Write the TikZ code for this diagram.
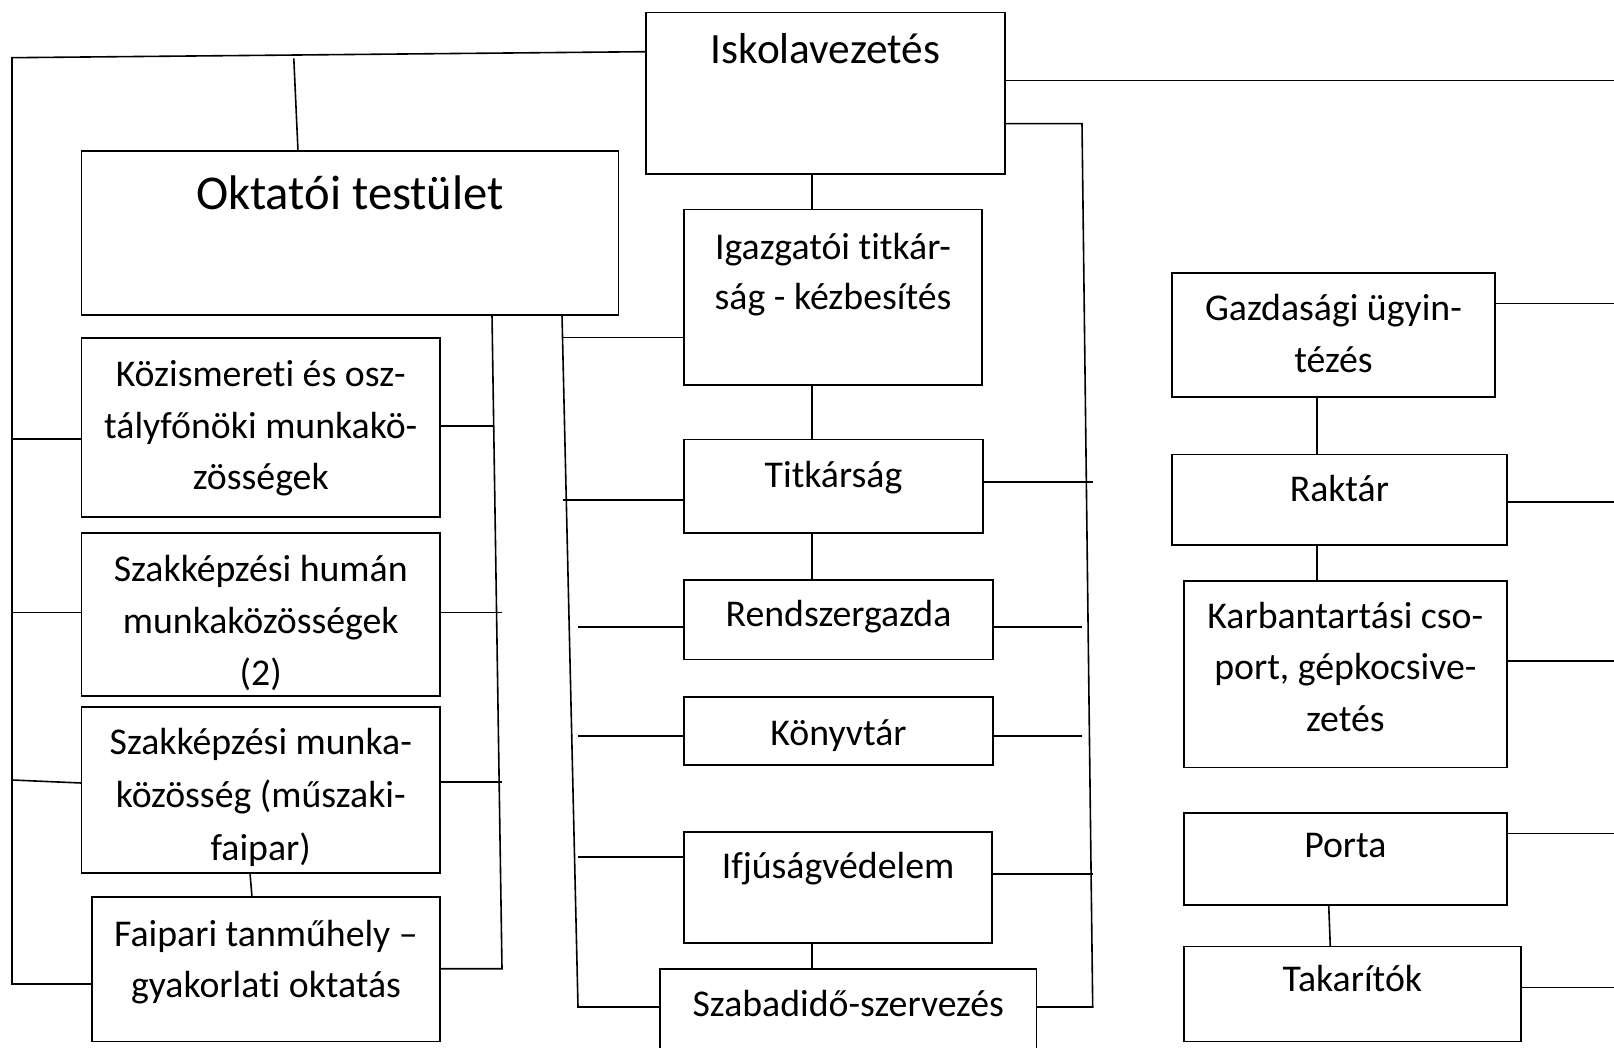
\documentclass[tikz,border=0pt]{standalone}
\usepackage{fontspec}
\setmainfont{Carlito}[Ligatures=NoCommon]
\newcommand{\orgbox}[8]{%
  \node[box, anchor=north west, minimum width={#4-#2}, minimum height={#5-#3}] (#1) at (#2,#3) {};
  \node[lbl, text width={#4-#2-4}, font=\fontsize#7\selectfont] (#1-t) at (#1.center |- 0,#6) {#8};}
\begin{document}
\begin{tikzpicture}[x=1pt,y=-1pt,
  box/.style={draw, line width=1.8pt, inner sep=0pt, outer sep=0pt},
  lbl/.style={anchor=base, align=flush center, inner sep=0pt, outer sep=0pt},
  conn/.style={draw, line width=1.6pt}]
\useasboundingbox (0,0) rectangle (1614,1048);
\clip (0,0) rectangle (1614,1048);
% boxes
\orgbox{isk}{646}{12.5}{1005}{174}{64}{{43.3}{51.5}}{Iskolavezetés}
\orgbox{okt}{81.5}{151}{618.5}{315}{209.5}{{48.6}{51.5}}{Oktatói testület}
\orgbox{koz}{81.5}{338}{440}{517}{387}{{37.8}{51.5}}{Közismereti és osz-\\tályfőnöki munkakö-\\zösségek}
\orgbox{hum}{81.5}{533}{440}{696}{581}{{37.8}{52}}{Szakképzési humán\\munkaközösségek\\(2)}
\orgbox{mun}{81.5}{707}{440}{873}{754.5}{{37.8}{53}}{Szakképzési munka-\\közösség (műszaki-\\faipar)}
\orgbox{fai}{92}{897}{440}{1041.5}{946.5}{{37.8}{51}}{Faipari tanműhely –\\gyakorlati oktatás}
\orgbox{igz}{684}{209.5}{982}{385}{259.5}{{37.8}{50}}{Igazgatói titkár-\\ság - kézbesítés}
\orgbox{tit}{684}{439.5}{983}{533}{487.5}{{37.8}{51.5}}{Titkárság}
\orgbox{ren}{684}{580}{993}{659.5}{626.5}{{37.8}{51.5}}{Rendszergazda}
\orgbox{kon}{684}{697}{993}{765}{745.5}{{37.8}{51.5}}{Könyvtár}
\orgbox{ifj}{684}{832}{992}{943}{878}{{37.8}{51.5}}{Ifjúságvédelem}
\orgbox{szb}{660}{969}{1036.5}{1065}{1016}{{37.8}{51.5}}{Szabadidő-szervezés}
\orgbox{gaz}{1172}{273}{1495}{397}{320.5}{{37.8}{52}}{Gazdasági ügyin-\\tézés}
\orgbox{rak}{1172}{454.5}{1506.7}{545}{501.5}{{37.8}{51.5}}{Raktár}
\orgbox{kar}{1184}{581}{1506.7}{767.5}{628}{{37.8}{51.5}}{Karbantartási cso-\\port, gépkocsive-\\zetés}
\orgbox{por}{1184}{813}{1506.7}{905}{857.5}{{37.8}{51.5}}{Porta}
\orgbox{tak}{1184}{946.5}{1520.7}{1041.5}{991}{{37.8}{51.5}}{Takarítók}
% bus corner coordinates
\coordinate (TL) at (12,57.7);
\coordinate (BL) at (12,984);
\coordinate (TJ) at (293.8,58.3);
\coordinate (RE) at (1614,80.7);
\coordinate (RT) at (1082,123.7);
\coordinate (RB) at (1092.7,1007);
\coordinate (OB) at (502,968.7);
\coordinate (MB) at (578,1007);
% left outer bus
\draw[conn] (isk.west |- 0,51.7) -- (TL) -- (BL) -- (fai.west |- BL);
\draw[conn] (12,439) -- (koz.west |- 0,439);
\draw[conn] (12,612.6) -- (hum.west |- 0,612.6);
\draw[conn] (12,780) -- (mun.west |- 0,783);
\draw[conn] (TJ) -- (okt.north -| 298,0);
% right of Iskolavezetes
\draw[conn] (isk.east |- RE) -- (RE);
\draw[conn] (isk.east |- RT) -- (RT) -- (RB) -- (szb.east |- RB);
\draw[conn] (tit.east |- 0,482) -- (1093,482);
\draw[conn] (ren.east |- 0,627) -- (1082,627);
\draw[conn] (kon.east |- 0,736) -- (1082,736);
\draw[conn] (ifj.east |- 0,874) -- (1093,874);
% central chain
\draw[conn] (isk.south -| 812,0) -- (igz.north -| 812,0);
\draw[conn] (igz.south -| 812,0) -- (tit.north -| 812,0);
\draw[conn] (tit.south -| 812,0) -- (ren.north -| 812,0);
\draw[conn] (ifj.south -| 812,0) -- (szb.north -| 812,0);
% buses from Oktatoi testulet
\draw[conn] (okt.south -| 492,0) -- (OB) -- (fai.east |- OB);
\draw[conn] (koz.east |- 0,426) -- (494,426);
\draw[conn] (hum.east |- 0,612.6) -- (502,612.6);
\draw[conn] (mun.east |- 0,782) -- (502,782);
\draw[conn] (okt.south -| 562,0) -- (MB) -- (szb.west |- MB);
\draw[conn] (562.5,337.7) -- (igz.west |- 0,337.7);
\draw[conn] (562.5,500) -- (tit.west |- 0,500);
\draw[conn] (578,627) -- (ren.west |- 0,627);
\draw[conn] (578,736) -- (kon.west |- 0,736);
\draw[conn] (578,857) -- (ifj.west |- 0,857);
\draw[conn] (mun.south -| 250,0) -- (fai.north -| 252,0);
% right column
\draw[conn] (gaz.south -| 1316.7,0) -- (rak.north -| 1316.7,0);
\draw[conn] (rak.south -| 1316.7,0) -- (kar.north -| 1316.7,0);
\draw[conn] (por.south -| 1328.7,0) -- (tak.north -| 1330.3,0);
\draw[conn] (gaz.east |- 0,303.7) -- (1614,303.7);
\draw[conn] (rak.east |- 0,502) -- (1614,502);
\draw[conn] (kar.east |- 0,660.7) -- (1614,660.7);
\draw[conn] (por.east |- 0,833.6) -- (1614,833.6);
\draw[conn] (tak.east |- 0,987.6) -- (1614,987.6);
\end{tikzpicture}
\end{document}
